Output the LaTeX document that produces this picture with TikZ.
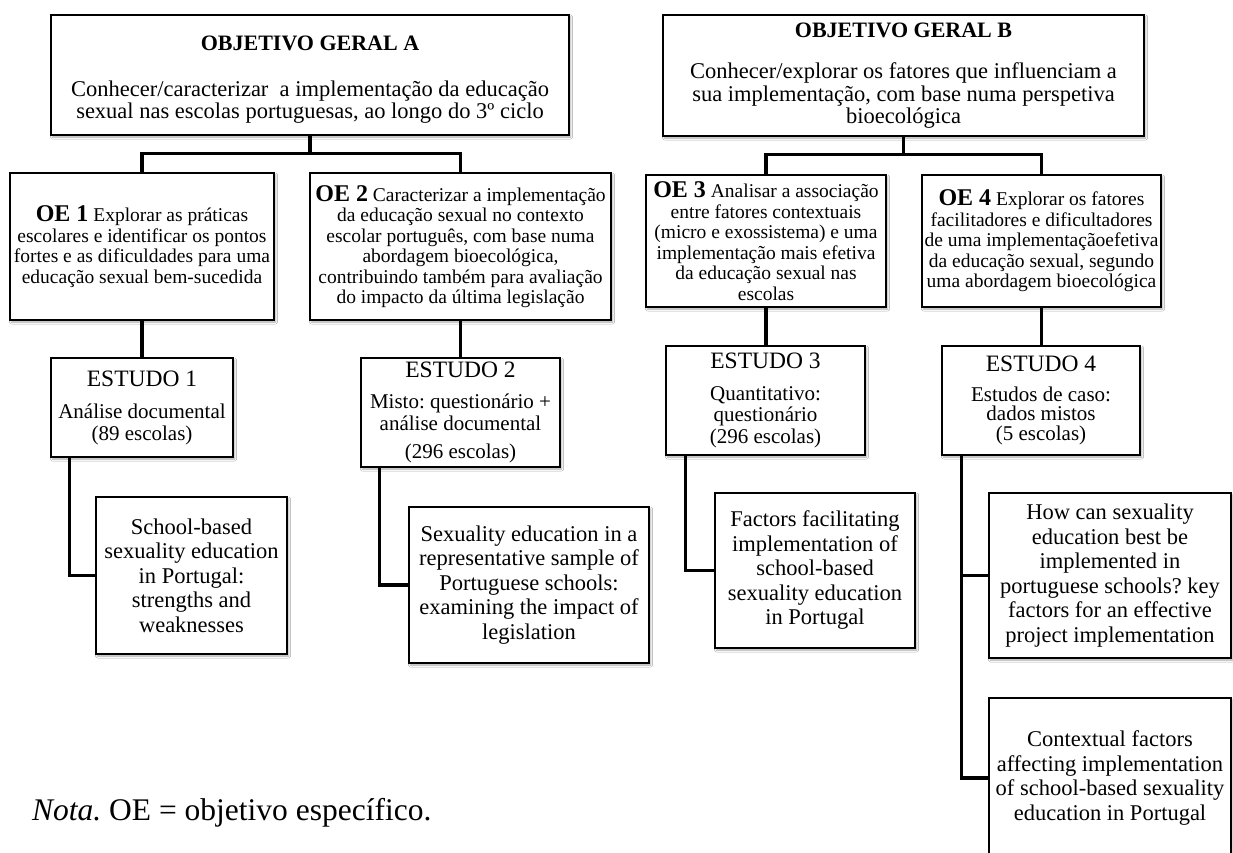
\documentclass[tikz,border=0pt]{standalone}
\usepackage{fontspec}
\setmainfont{Liberation Serif}
\usetikzlibrary{shadows.blur}
\newcommand{\OEl}{\fontsize{24}{20.5}\selectfont\bfseries}
\newcommand{\EstT}{\fontsize{23.5}{21.5}\selectfont}
\frenchspacing
\begin{document}
\begin{tikzpicture}[x=1pt,y=-1pt,
  box/.style={draw=black, line width=1.3pt, fill=white, inner sep=0pt, align=center,
    blur shadow={shadow xshift=1.5pt, shadow yshift=-2pt, shadow blur radius=2pt, shadow opacity=35}},
  gbox/.style={box, font=\fontsize{22.5}{22.5}\selectfont},
  oebox/.style={box, font=\fontsize{19.5}{20.5}\selectfont},
  estbox/.style={box, font=\fontsize{21}{21.5}\selectfont},
  pbox/.style={box, font=\fontsize{22.5}{24.5}\selectfont},
  conn/.style={line width=3.3pt, draw=black}
]
\fill[white] (0,0) rectangle (1233,853);
\useasboundingbox (0,0) rectangle (1233,853);

% general objectives
\node[gbox, minimum width=518pt, minimum height=120pt] (ga) at (310,75)
  {\rule{0pt}{24pt}{\fontsize{22}{22.5}\selectfont\bfseries OBJETIVO GERAL A}\\[23pt]
   Conhecer/caracterizar\ \ a implementação da educação\\
   sexual nas escolas portuguesas, ao longo do 3º ciclo};
\node[gbox, minimum width=481pt, minimum height=121pt] (gb) at (903.5,75.5)
  {{\fontsize{22}{22.5}\selectfont\bfseries OBJETIVO GERAL B}\\[19pt]
   Conhecer/explorar os fatores que influenciam a\\
   sua implementação, com base numa perspetiva\\
   bioecológica};

% specific objectives
\node[oebox, minimum width=264pt, minimum height=147pt] (oe1) at (142,246.5)
  {{\OEl OE 1} Explorar as práticas\\
   escolares e identificar os pontos\\
   fortes e as dificuldades para uma\\
   educação sexual bem-sucedida};
\node[oebox, minimum width=301pt, minimum height=147pt] (oe2) at (460.5,246.5)
  {{\OEl OE 2} Caracterizar a implementação\\
   da educação sexual no contexto\\
   escolar português, com base numa\\
   abordagem bioecológica,\\
   contribuindo também para avaliação\\
   do impacto da última legislação};
\node[oebox, minimum width=240pt, minimum height=132pt] (oe3) at (766,241)
  {{\OEl OE 3} Analisar a associação\\
   entre fatores contextuais\\
   (micro e exossistema) e uma\\
   implementação mais efetiva\\
   da educação sexual nas\\
   escolas};
\node[oebox, minimum width=239pt, minimum height=132pt] (oe4) at (1041.5,241)
  {{\OEl OE 4} Explorar os fatores\\
   facilitadores e dificultadores\\
   de uma implementaçãoefetiva\\
   da educação sexual, segundo\\
   uma abordagem bioecológica};

% studies
\node[estbox, minimum width=182pt, minimum height=99pt] (e1) at (142,407.5)
  {{\EstT ESTUDO 1}\\[11pt] Análise documental\\ (89 escolas)};
\node[estbox, minimum width=199pt, minimum height=109pt] (e2) at (460.5,412.5)
  {{\EstT ESTUDO 2}\\[10pt] Misto: questionário +\\ análise documental\\[7pt] (296 escolas)};
\node[estbox, minimum width=199pt, minimum height=109pt] (e3) at (765.5,400.5)
  {{\EstT ESTUDO 3}\\[10pt] Quantitativo:\\ questionário\\ (296 escolas)};
\node[estbox, minimum width=198pt, minimum height=109pt] (e4) at (1041,400.5)
  {{\EstT ESTUDO 4}\\[8pt] Estudos de caso:\\[-2pt] dados mistos\\[-2pt] (5 escolas)};

% papers
\node[pbox, minimum width=191pt, minimum height=157pt] (p1) at (191.5,575.5)
  {School-based\\ sexuality education\\ in Portugal:\\ strengths and\\ weaknesses};
\node[pbox, minimum width=240pt, minimum height=156pt] (p2) at (529,585)
  {Sexuality education in a\\ representative sample of\\ Portuguese schools:\\ examining the impact of\\ legislation};
\node[pbox, minimum width=200pt, minimum height=155pt] (p3) at (815,570.5)
  {Factors facilitating\\ implementation of\\ school-based\\ sexuality education\\ in Portugal};
\node[pbox, minimum width=242pt, minimum height=165pt] (p4a) at (1110,575.5)
  {How can sexuality\\ education best be\\ implemented in\\ portuguese schools? key\\ factors for an effective\\ project implementation};
\node[pbox, minimum width=242pt, minimum height=160pt] (p4b) at (1110,778)
  {Contextual factors\\ affecting implementation\\ of school-based sexuality\\ education in Portugal};

% connectors
\draw[conn] (ga.south) -- ++(0,18) coordinate (ja);
\draw[conn] (oe1.north) |- (ja) -| (oe2.north);
\draw[conn] (gb.south) -- ++(0,18) coordinate (jb);
\draw[conn] (oe3.north) |- (jb) -| (oe4.north);

\draw[conn] (oe1.south) -- (oe1.south |- e1.north);
\draw[conn] (oe2.south) -- (oe2.south |- e2.north);
\draw[conn] (oe3.south) -- (oe3.south |- e3.north);
\draw[conn] (oe4.south) -- (oe4.south |- e4.north);

\coordinate (e1d) at ([xshift=19pt]e1.south west);
\coordinate (e2d) at ([xshift=19pt]e2.south west);
\coordinate (e3d) at ([xshift=20pt]e3.south west);
\coordinate (e4d) at ([xshift=20pt]e4.south west);
\draw[conn] (e1d) |- (p1.west);
\draw[conn] (e2d) |- (p2.west);
\draw[conn] (e3d) |- (p3.west);
\draw[conn] (e4d) |- (p4b.west);
\draw[conn] (e4d |- p4a.west) -- (p4a.west);

% note
\node[anchor=base west, inner sep=0pt, font=\fontsize{31.5}{36}\selectfont] (nota) at (32,820)
  {\textit{Nota.} OE = objetivo específico.};
\end{tikzpicture}
\end{document}
